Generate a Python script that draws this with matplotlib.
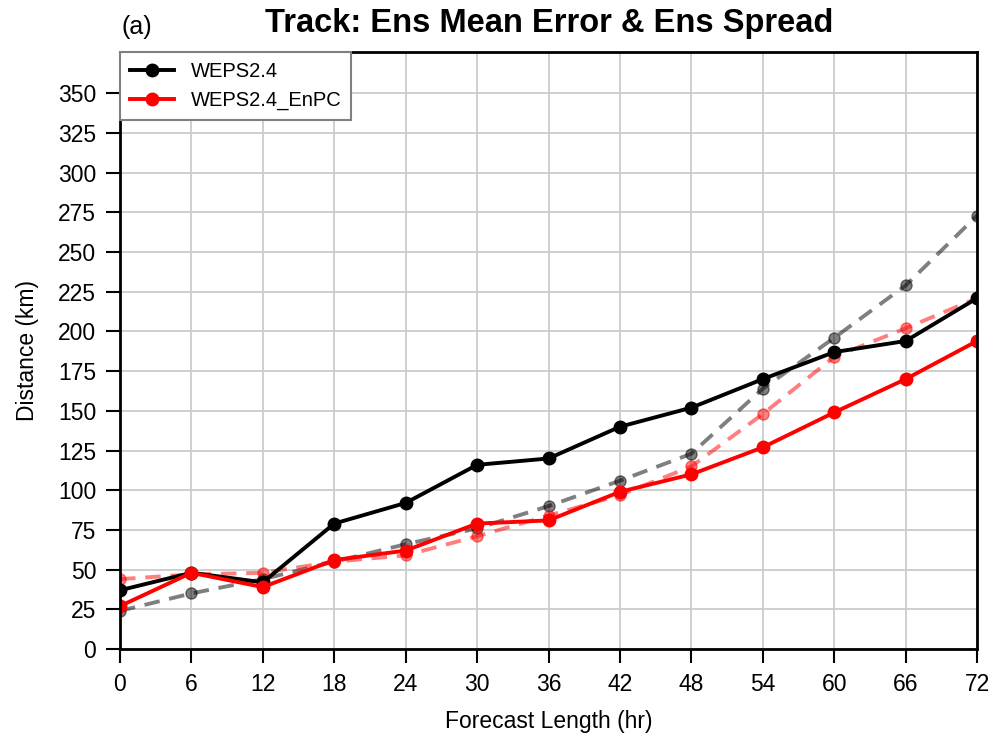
import matplotlib.pyplot as plt

plt.rcParams['font.family'] = ['Liberation Sans', 'DejaVu Sans']

hours = [0, 6, 12, 18, 24, 30, 36, 42, 48, 54, 60, 66, 72]

# ensemble mean error (solid)
err_weps = [37, 48, 42, 79, 92, 116, 120, 140, 152, 170, 187, 194, 221]
err_enpc = [27, 48, 39, 56, 62, 79, 81, 99, 110, 127, 149, 170, 194]

# ensemble spread (dashed)
spr_weps = [24, 35, 44, 55, 66, 76, 90, 106, 123, 164, 196, 229, 273]
spr_enpc = [44, 47, 48, 55, 59, 71, 84, 97, 115, 148, 184, 202, 221]

fig = plt.figure(figsize=(9.94, 7.37), dpi=100)
ax = fig.add_axes([0.1207, 0.1194, 0.8623, 0.81])

ax.plot(hours, spr_weps, '--', color='black', alpha=0.5, lw=2.8, marker='o', ms=8, dashes=(4, 2.5))
ax.plot(hours, spr_enpc, '--', color='red', alpha=0.5, lw=2.8, marker='o', ms=8, dashes=(4, 2.5))
ax.plot(hours, err_weps, '-', color='black', lw=2.8, marker='o', ms=9, label='WEPS2.4')
ax.plot(hours, err_enpc, '-', color='red', lw=2.8, marker='o', ms=9, label='WEPS2.4_EnPC')

ax.set_xlim(0, 72)
ax.set_ylim(0, 376)
ax.set_xticks(hours)
ax.set_yticks(range(0, 351, 25))
ax.tick_params(labelsize=16.5, width=1.5, length=10, direction='out', pad=7)
ax.grid(True, color='#cccccc', lw=1.3)
ax.set_axisbelow(True)
for s in ax.spines.values():
    s.set_linewidth(2)

ax.set_xlabel('Forecast Length (hr)', fontsize=16.5, labelpad=10)
ax.set_ylabel('Distance (km)', fontsize=16.5, labelpad=14)
fig.text(0.552, 0.947, 'Track: Ens Mean Error & Ens Spread', ha='center', va='bottom',
         fontsize=23.5, fontweight='bold')
fig.text(0.122, 0.947, '(a)', ha='left', va='bottom', fontsize=18)

leg = ax.legend(loc='upper left', fontsize=14.5, fancybox=False, framealpha=1,
                borderaxespad=0, handlelength=2.2, borderpad=0.5, labelspacing=0.5)
leg.get_frame().set_edgecolor('gray')
leg.get_frame().set_linewidth(1.5)

fig.savefig('out.png', dpi=100)
